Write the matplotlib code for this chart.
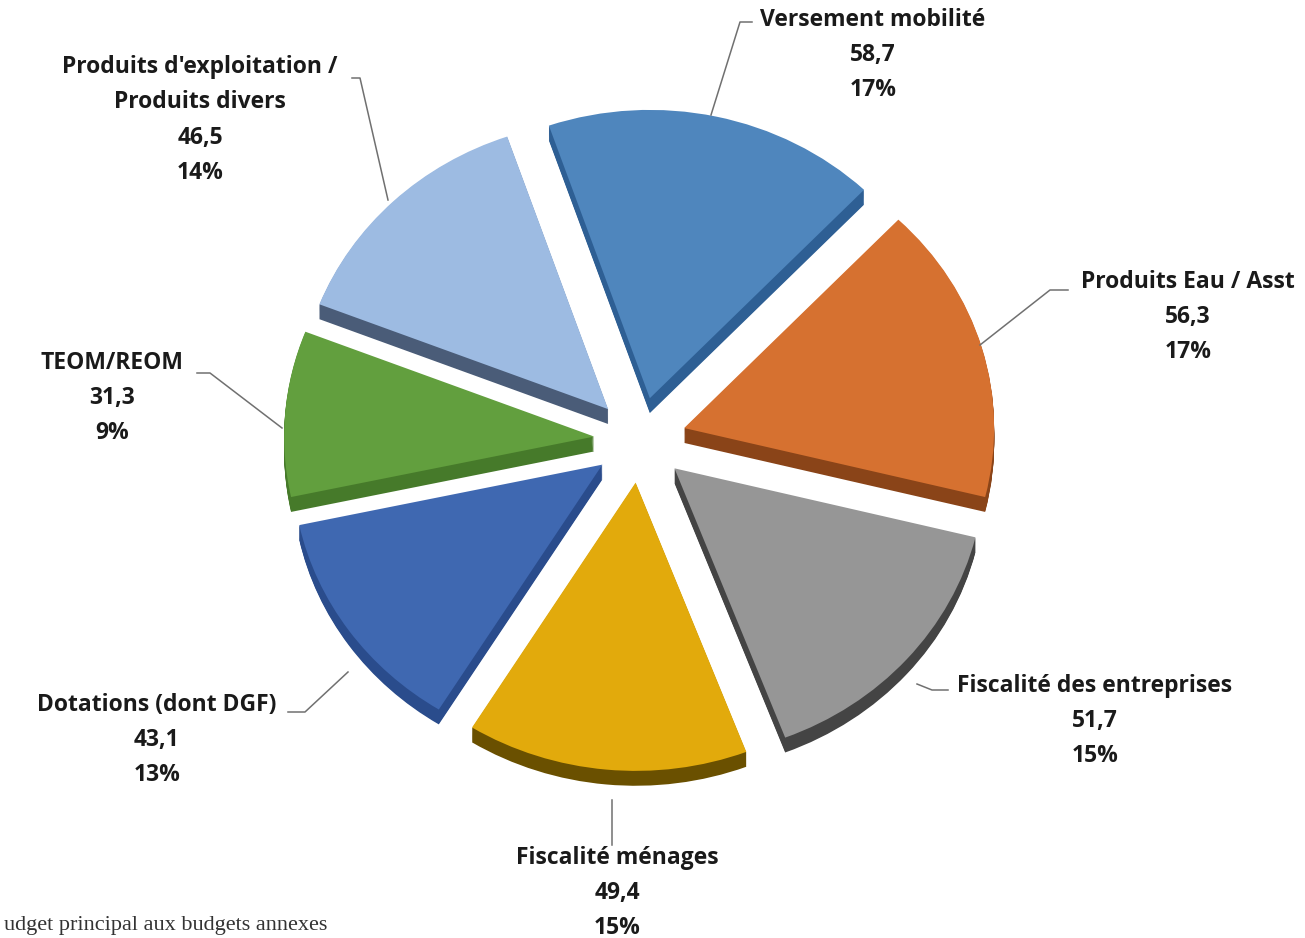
import matplotlib
matplotlib.use("Agg")
import matplotlib.pyplot as plt
from matplotlib.transforms import Affine2D

# Data
labels = ["Versement mobilité", "Produits Eau / Asst", "Fiscalité des entreprises",
          "Fiscalité ménages", "Dotations (dont DGF)", "TEOM/REOM",
          "Produits d'exploitation /\nProduits divers"]
values = [58.7, 56.3, 51.7, 49.4, 43.1, 31.3, 46.5]
top_colors = ["#4F86BD", "#D67130", "#969696", "#E2AA0C", "#3F68B1", "#629F3E", "#9DBBE2"]
side_colors = ["#2E5F94", "#8A4418", "#444444", "#6A5000", "#2A4C8C", "#467A2A", "#4A5C78"]

# label block centres and leader lines, in image pixels (y from top)
label_pos = [(873, 55), (1188, 317), (1095, 721), (617, 893), (157, 740), (112, 398), (200, 120)]
leaders = [
    [(711, 115), (740, 22), (752, 22)],
    [(980, 345), (1050, 290), (1068, 290)],
    [(917, 684), (932, 690), (948, 690)],
    [(612, 800), (612, 845)],
    [(348, 672), (305, 712), (288, 712)],
    [(282, 428), (210, 373), (197, 373)],
    [(388, 200), (360, 78), (352, 78)],
]

W, H = 1305, 938
fig = plt.figure(figsize=(W / 100, H / 100), dpi=100)
ax = fig.add_axes([0, 0, 1, 1])

cx, cy = 640, H - 440
radius = 310
squash = 0.93
depth = 16
explode = [46] * len(values)   # pie explode is in data units here

def squash_tf(ccy):
    return Affine2D().translate(-cx, -ccy).scale(1, squash).translate(cx, ccy) + ax.transData

# side (depth) layers
for k in range(depth, 0, -1):
    wedges, _ = ax.pie(values, colors=side_colors, startangle=109, counterclock=False,
                       explode=explode, radius=radius, center=(cx, cy - k), frame=True,
                       wedgeprops=dict(linewidth=0))
    for w in wedges:
        w.set_transform(squash_tf(cy))

# top faces
wedges, _ = ax.pie(values, colors=top_colors, startangle=109, counterclock=False,
                   explode=explode, radius=radius, center=(cx, cy), frame=True,
                   wedgeprops=dict(linewidth=0))
for w in wedges:
    w.set_transform(squash_tf(cy))

ax.set_xlim(0, W)
ax.set_ylim(0, H)
ax.set_aspect("auto")
ax.axis("off")

total = sum(values)
for lab, v, (lx, ly) in zip(labels, values, label_pos):
    txt = f"{lab}\n{v:.1f}".replace(".", ",") + f"\n{round(v / total * 100)}%"
    ax.text(lx, H - ly, txt, ha="center", va="center", fontsize=16.5, fontweight="bold",
            family="Open Sans", color="#1a1a1a", linespacing=1.62)

for pts in leaders:
    ax.plot([p[0] for p in pts], [H - p[1] for p in pts], color="#707070", lw=1.1)

ax.text(4, H - 925, "udget principal aux budgets annexes", ha="left", va="center",
        fontsize=16, family="Liberation Serif", color="#333333")

fig.savefig("out.png", dpi=100)
